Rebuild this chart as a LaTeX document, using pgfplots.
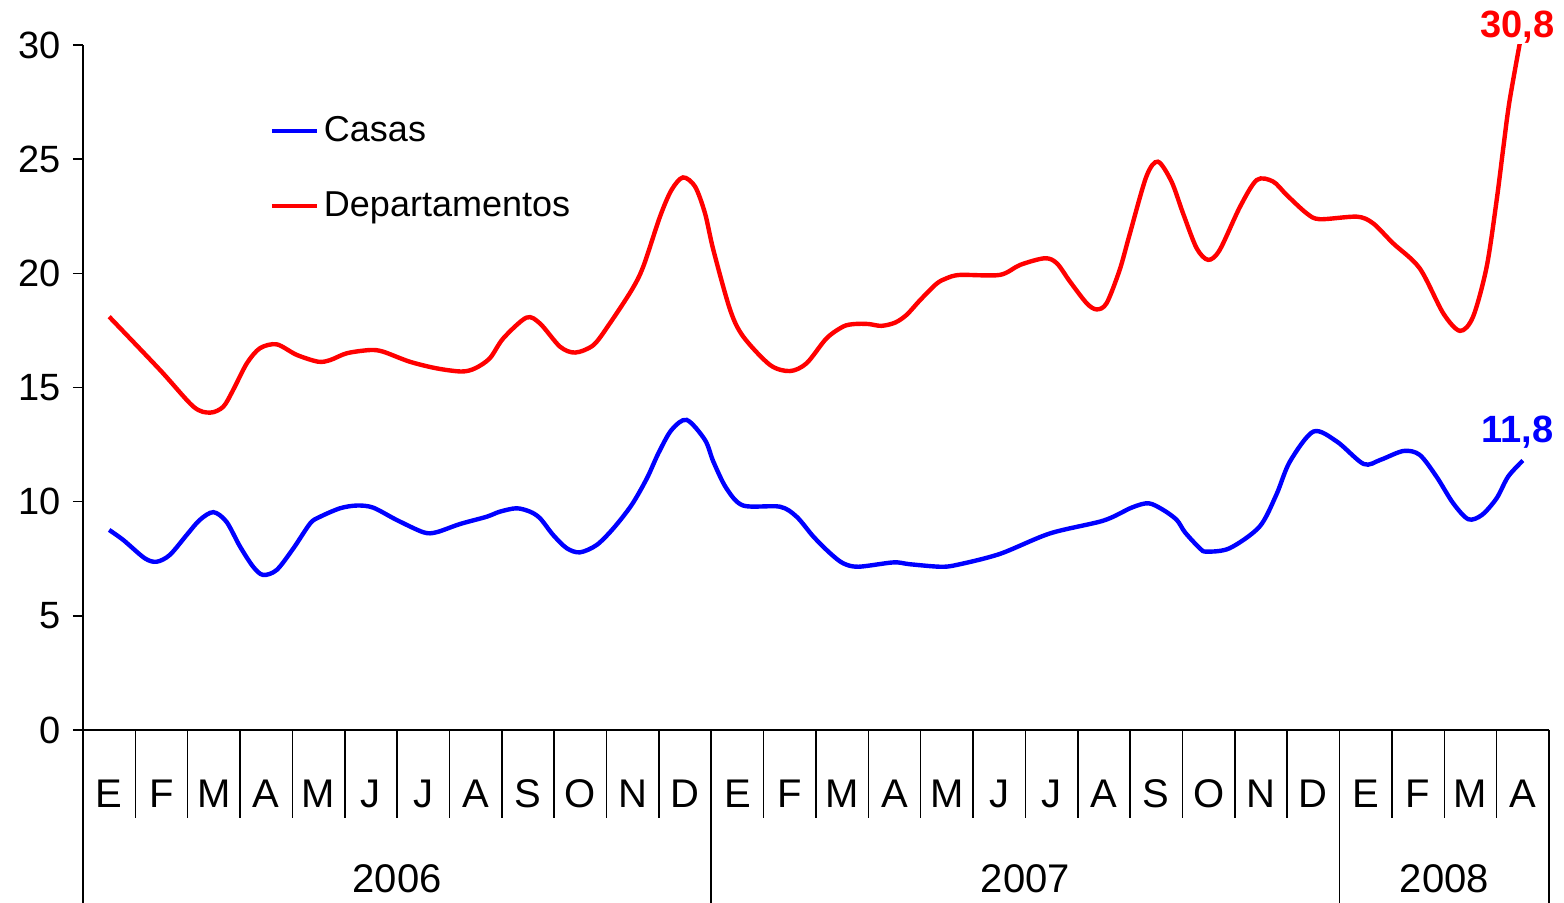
\documentclass[border=0pt]{standalone}
\usepackage{pgfplots}
\pgfplotsset{compat=1.18}
\usepackage{fontspec}
\setmainfont{Liberation Sans}
\begin{document}
\begin{tikzpicture}
\useasboundingbox (-41.5pt,-86.5pt) rectangle (740.5pt,365pt);
\begin{axis}[
  width=733pt, height=342.5pt, scale only axis,
  xmin=-0.5, xmax=27.5, ymin=0, ymax=30,
  clip mode=individual,
  axis x line*=bottom, axis y line*=left,
  axis line style={line width=1pt,-},
  tick align=outside,
  major tick length=5pt,
  ytick={0,5,10,15,20,25,30},
  ytick style={line width=0.8pt,black},
  yticklabel style={font=\fontsize{19}{19}\selectfont, xshift=-2.5pt},
  xtick={0,...,27},
  xticklabels={E,F,M,A,M,J,J,A,S,O,N,D,E,F,M,A,M,J,J,A,S,O,N,D,E,F,M,A},
  xtick style={draw=none},
  xticklabel style={font=\fontsize{20}{20}\selectfont, anchor=base, yshift=-34pt},
  /pgf/number format/assume math mode=true,
  legend style={draw=none, fill=none, inner sep=0pt, at={(0.127,0.820)}, anchor=west,
    font=\fontsize{18}{18}\selectfont, row sep=18.5pt, nodes={inner sep=2.5pt}},
  legend cell align=left,
  legend image code/.code={\draw[#1] (0pt,0pt) -- (22.5pt,0pt);},
]
\addplot[blue, line width=2.2pt, smooth] table {
0.00 8.76
0.27 8.32
0.68 7.52
0.91 7.37
1.16 7.67
1.48 8.54
1.73 9.2
1.99 9.54
2.24 9.12
2.50 8.03
2.75 7.15
2.94 6.79
3.20 7.01
3.52 7.96
3.84 9.05
4.03 9.34
4.41 9.71
4.73 9.83
5.04 9.74
5.49 9.2
6.00 8.66
6.25 8.66
6.70 9.02
7.21 9.34
7.46 9.56
7.78 9.71
8.04 9.56
8.23 9.27
8.48 8.54
8.74 7.96
8.99 7.78
9.31 8.1
9.63 8.83
9.98 9.86
10.27 11.02
10.49 12.12
10.74 13.14
11.03 13.58
11.38 12.7
11.54 11.75
11.79 10.58
12.11 9.83
12.81 9.78
13.13 9.34
13.45 8.47
13.77 7.74
14.02 7.3
14.31 7.15
14.98 7.34
15.29 7.26
15.87 7.15
16.19 7.23
17.01 7.71
17.97 8.61
18.99 9.17
19.53 9.74
19.85 9.93
20.13 9.64
20.39 9.2
20.55 8.65
20.83 7.96
20.96 7.81
21.40 7.96
21.97 8.9
22.29 10.29
22.55 11.75
23.00 13.07
23.45 12.63
23.96 11.65
24.28 11.83
24.72 12.22
25.03 12.05
25.35 11.1
25.67 9.93
25.96 9.23
26.22 9.42
26.50 10.15
26.72 11.1
27.00 11.8
};
\addlegendentry{Casas}
\addplot[red, line width=2.2pt, smooth] table {
0.00 18.1
0.97 15.77
1.61 14.16
1.93 13.9
2.18 14.16
2.37 14.9
2.63 16.06
2.88 16.72
3.20 16.89
3.58 16.43
3.99 16.13
4.22 16.2
4.54 16.5
4.98 16.64
5.23 16.57
5.74 16.13
6.25 15.84
6.73 15.7
6.99 15.84
7.27 16.28
7.53 17.16
7.97 18.06
8.23 17.8
8.61 16.79
8.90 16.53
9.25 16.86
9.56 17.8
9.98 19.27
10.20 20.29
10.52 22.48
10.74 23.65
10.96 24.2
11.19 23.8
11.38 22.63
11.54 21.02
11.86 18.4
12.11 17.23
12.62 15.99
13.00 15.72
13.32 16.06
13.70 17.15
14.02 17.67
14.24 17.78
14.50 17.78
14.75 17.7
15.01 17.84
15.23 18.18
15.49 18.83
15.80 19.54
15.99 19.78
16.25 19.93
17.01 19.93
17.40 20.37
17.87 20.66
18.10 20.44
18.35 19.64
18.67 18.69
18.86 18.42
19.05 18.69
19.30 20.15
19.49 21.7
19.81 24.24
20.03 24.89
20.29 24.02
20.51 22.63
20.77 21.1
20.99 20.59
21.21 21.02
21.60 22.92
21.92 24.09
22.23 24.02
22.49 23.43
22.87 22.63
23.12 22.37
23.83 22.48
24.14 22.19
24.52 21.32
25.03 20.22
25.48 18.25
25.80 17.48
26.05 18.1
26.31 20.29
26.50 23.2
26.63 25.55
26.75 27.6
27.00 30.8
};
\addlegendentry{Departamentos}
% month separators
\pgfplotsinvokeforeach{0.5,1.5,2.5,3.5,4.5,5.5,6.5,7.5,8.5,9.5,10.5,12.5,13.5,14.5,15.5,16.5,17.5,18.5,19.5,20.5,21.5,22.5,24.5,25.5,26.5}{
  \draw[line width=0.75pt] (axis cs:#1,0) -- ++(0pt,-44pt);
}
% year separators
\pgfplotsinvokeforeach{-0.5,11.5,23.5,27.5}{
  \draw[line width=0.9pt] (axis cs:#1,0) -- ++(0pt,-86.5pt);
}
\node[font=\fontsize{20}{20}\selectfont, anchor=base, yshift=-81.5pt] at (axis cs:5.5,0) {2006};
\node[font=\fontsize{20}{20}\selectfont, anchor=base, yshift=-81.5pt] at (axis cs:17.5,0) {2007};
\node[font=\fontsize{20}{20}\selectfont, anchor=base, yshift=-81.5pt] at (axis cs:25.5,0) {2008};
\node[font=\bfseries\fontsize{19}{19}\selectfont, text=red, anchor=base, inner sep=0pt, yshift=3.5pt] at (axis cs:26.9,30) {30,8};
\node[font=\bfseries\fontsize{19}{19}\selectfont, text=blue, anchor=base, inner sep=0pt] at (axis cs:26.9,12.61) {11,8};
\end{axis}
\end{tikzpicture}
\end{document}
